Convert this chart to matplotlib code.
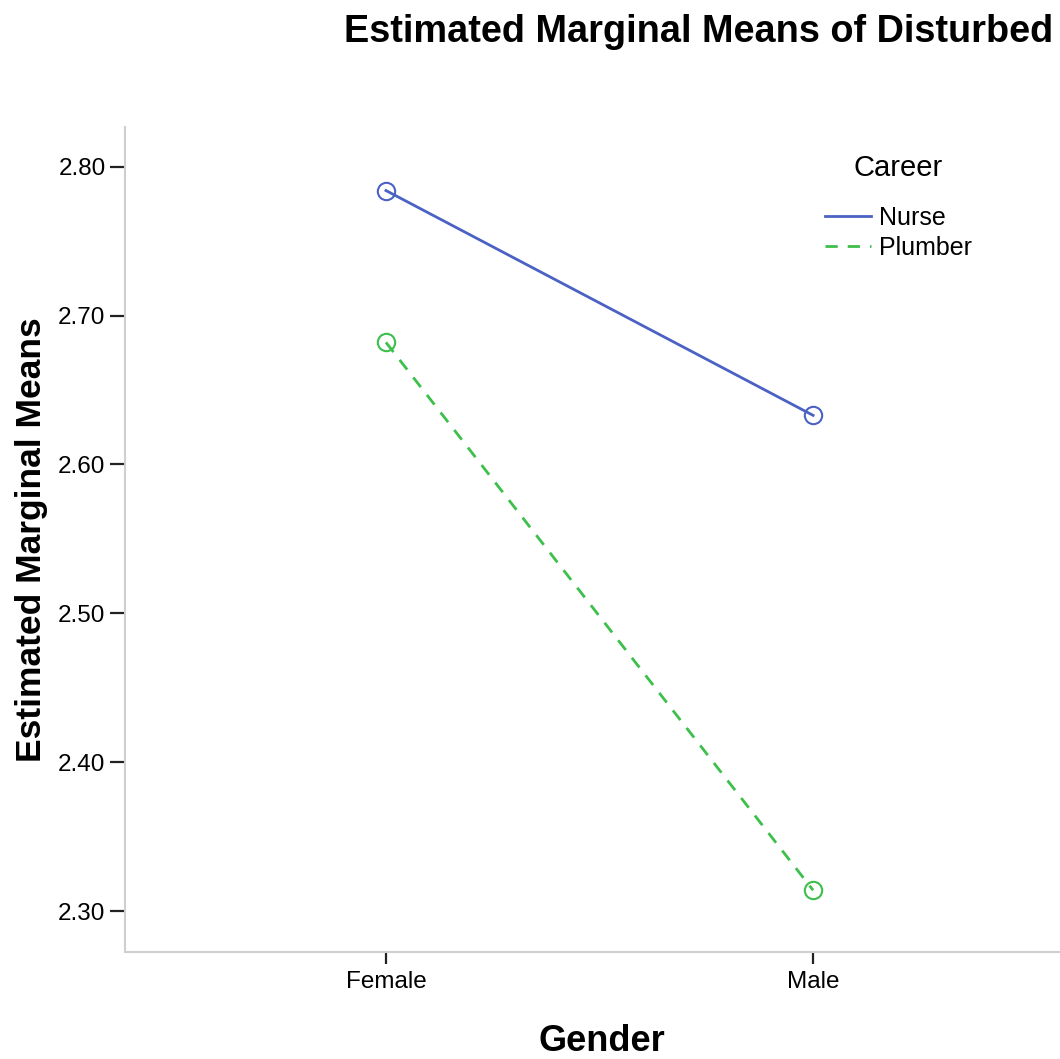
import matplotlib.pyplot as plt
from matplotlib.lines import Line2D

plt.rcParams['font.family'] = ['Liberation Sans', 'DejaVu Sans']

genders = ['Female', 'Male']
careers = ['Nurse', 'Plumber']
nurse_means = [2.784, 2.633]
plumber_means = [2.682, 2.314]
yticks = [2.30, 2.40, 2.50, 2.60, 2.70, 2.80]

colors = {'Nurse': '#4b62c4', 'Plumber': '#3dbf4b'}
dash = (4.4, 3.6)

fig = plt.figure(figsize=(10.6, 10.59), dpi=100)
ax = fig.add_axes([0.1179, 0.1010, 0.8821, 0.7791])

x = range(len(genders))
for name, vals, ls in [('Nurse', nurse_means, '-'), ('Plumber', plumber_means, '--')]:
    line, = ax.plot(x, vals, color=colors[name], lw=2.0, ls=ls)
    if ls == '--':
        line.set_dashes(dash)
    ax.plot(x, vals, ls='none', marker='o', ms=12.5, mfc='none',
            mec=colors[name], mew=1.5)

ax.set_xlim(-0.611, 1.578)
ax.set_ylim(2.2725, 2.8267)
ax.set_xticks(list(x))
ax.set_xticklabels(genders)
ax.set_yticks(yticks)
ax.set_yticklabels([f'{v:.2f}' for v in yticks])

for side in ['top', 'right']:
    ax.spines[side].set_visible(False)
for side in ['left', 'bottom']:
    ax.spines[side].set_color('#cfcfcf')
    ax.spines[side].set_linewidth(1.5)

ax.tick_params(axis='y', length=10.5, width=1.6, color='#222222',
               labelsize=17.5, pad=3.5)
ax.tick_params(axis='x', length=8.5, width=1.6, color='#222222',
               labelsize=17.5, pad=5)

ax.set_ylabel('Estimated Marginal Means', fontsize=25.5, fontweight='bold',
              va='center')
ax.yaxis.set_label_coords(-0.0995, 0.5)
ax.set_xlabel('Gender', fontsize=26, fontweight='bold', va='center')
ax.xaxis.set_label_coords(0.510, -0.108)

fig.suptitle('Estimated Marginal Means of Disturbed', x=0.6594, y=0.970,
             va='center', fontsize=27.3, fontweight='bold')

# legend title drawn on its own so the gap above the entries can be set
fig.text(898 / 1060, 1 - 168 / 1059, 'Career', ha='center', va='center',
         fontsize=21)
handles = [Line2D([], [], color=colors['Nurse'], lw=2.0),
           Line2D([], [], color=colors['Plumber'], lw=2.0, dashes=dash)]
leg = ax.legend(handles, careers, loc='upper left',
                bbox_to_anchor=(825 / 1060, 1 - 206 / 1059),
                bbox_transform=fig.transFigure, frameon=False,
                fontsize=18, handlelength=1.85,
                handletextpad=0.32, labelspacing=0.24, borderpad=0,
                borderaxespad=0)

fig.savefig('out.png', dpi=100)
